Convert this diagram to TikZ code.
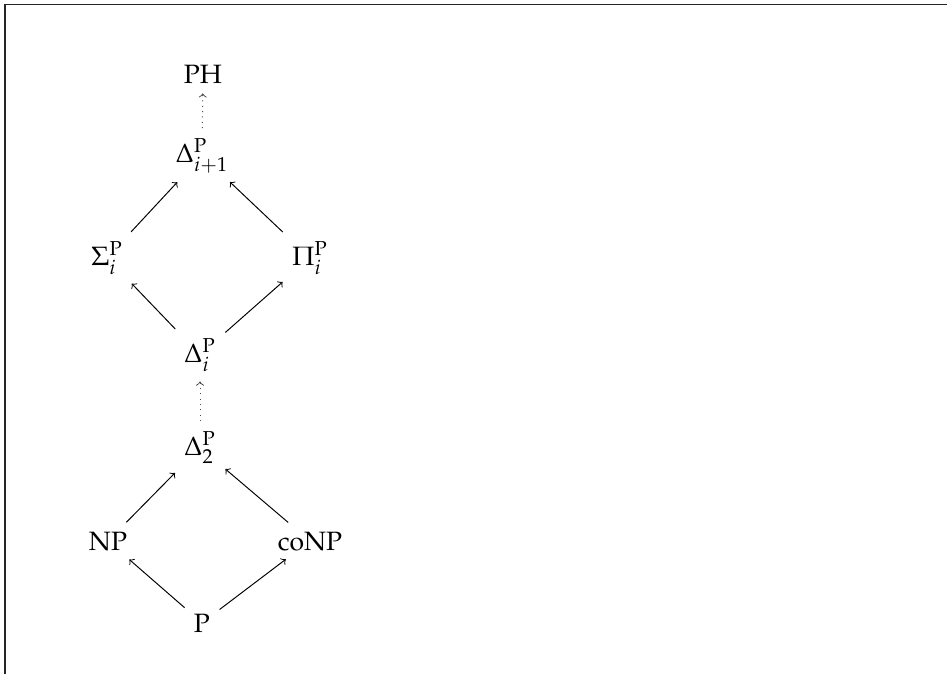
\documentclass[tikz,border=0pt]{standalone}
\usepackage{mathpazo}
\begin{document}
\begin{tikzpicture}[x=0.46pt,y=-0.46pt,
  cls/.style={inner sep=3pt, anchor=base, font=\fontsize{12.2pt}{14.5pt}\selectfont},
  arr/.style={->, line width=0.45pt, shorten >=1.5pt, shorten <=1.5pt},
  dotarr/.style={arr, dotted, draw=black!70}]
\useasboundingbox (0,0) rectangle (947,674);
\draw[line width=0.8pt, black!85] (5,674) -- (5,4.5) -- (947,4.5);
\node[cls] (PH) at (203,83) {$\mathrm{PH}$};
\node[cls] (D1) at (202,162) {$\Delta^{\mathrm{P}}_{i+1}$};
\node[cls] (S) at (107,265) {$\Sigma^{\mathrm{P}}_{i}$};
\node[cls] (Pi) at (310,265) {$\Pi^{\mathrm{P}}_{i}$};
\node[cls] (Di) at (200,362) {$\Delta^{\mathrm{P}}_{i}$};
\node[cls] (D2) at (200,455) {$\Delta^{\mathrm{P}}_{2}$};
\node[cls] (NP) at (108,550) {$\mathrm{NP}$};
\node[cls] (coNP) at (310,550) {$\mathrm{coNP}$};
\node[cls] (P) at (202,632) {$\mathrm{P}$};
\draw[dotarr] (D1) -- (PH);
\draw[arr] (S) -- (D1);
\draw[arr] (Pi) -- (D1);
\draw[arr] (Di) -- (S);
\draw[arr] (Di) -- (Pi);
\draw[dotarr] (D2) -- (Di);
\draw[arr] (NP) -- (D2);
\draw[arr] (coNP) -- (D2);
\draw[arr] (P) -- (NP);
\draw[arr] (P) -- (coNP);
\end{tikzpicture}
\end{document}
